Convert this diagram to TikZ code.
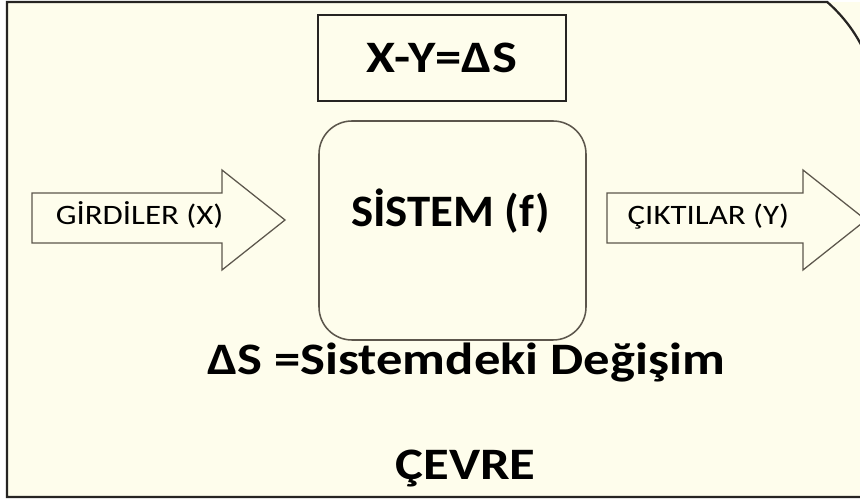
\documentclass[tikz,border=0pt]{standalone}
\usepackage{fontspec}
\setmainfont{Carlito}
\newfontfamily\widefont[FakeStretch=1.17]{Carlito}
\newfontfamily\sysfont[FakeStretch=1.04]{Carlito}
\definecolor{cream}{RGB}{254,253,236}
\definecolor{frameline}{RGB}{38,36,34}
\definecolor{boxline}{RGB}{92,86,76}

\begin{document}
\begin{tikzpicture}[
    bigtext/.style={font=\widefont\bfseries\fontsize{32}{36}\selectfont, anchor=base, inner sep=0pt},
    smalltext/.style={font=\widefont\fontsize{20}{24}\selectfont, anchor=base, inner sep=0pt},
    blockarrow/.style={draw=boxline, line width=0.9pt, fill=cream, line join=miter}]
  \useasboundingbox (0,0) rectangle (21.5,12.475);
  \clip (0,0) rectangle (21.5,12.475);
  \fill[white] (0,0) rectangle (21.5,12.475);
  \fill[cream] (0.175,0.05) rectangle (21.5,12.425);
  \draw[frameline, line width=1.6pt] (21.7,0.05) -- (0.175,0.05) -- (0.175,12.425) -- (20.68,12.425)
    arc[start angle=48.9, end angle=-10, radius=3.75];

  \node[draw=frameline, line width=1.1pt, minimum width=6.2cm, minimum height=2.15cm,
    font=\widefont\bfseries\fontsize{32}{36}\selectfont] (balance) at (11.05,11.025) {X-Y=ΔS};
  \node[draw=boxline, line width=1.1pt, minimum width=6.675cm, minimum height=5.475cm,
    rounded corners=0.825cm] (system) at (11.3125,6.7125) {};

  \draw[blockarrow] (0.8,7.65) -- (5.55,7.65) -- (5.55,8.225) -- (7.125,6.975) -- (5.55,5.725) -- (5.55,6.4) -- (0.8,6.4) -- cycle;
  \draw[blockarrow] (15.175,7.65) -- (20.075,7.65) -- (20.075,8.225) -- (21.65,6.975) -- (20.075,5.725) -- (20.075,6.4) -- (15.175,6.4) -- cycle;

  \node[smalltext] (inputs) at (3.49,6.85) {GİRDİLER (X)};
  \node[smalltext] (outputs) at (17.71,6.85) {ÇIKTILAR (Y)};
  \node[bigtext, font=\sysfont\bfseries\fontsize{32}{36}\selectfont] (systemname) at (11.26,6.8) {SİSTEM (f)};
  \node[bigtext] (change) at (11.65,3.1) {ΔS =Sistemdeki Değişim};
  \node[bigtext] (environment) at (11.64,0.475) {ÇEVRE};
\end{tikzpicture}
\end{document}
